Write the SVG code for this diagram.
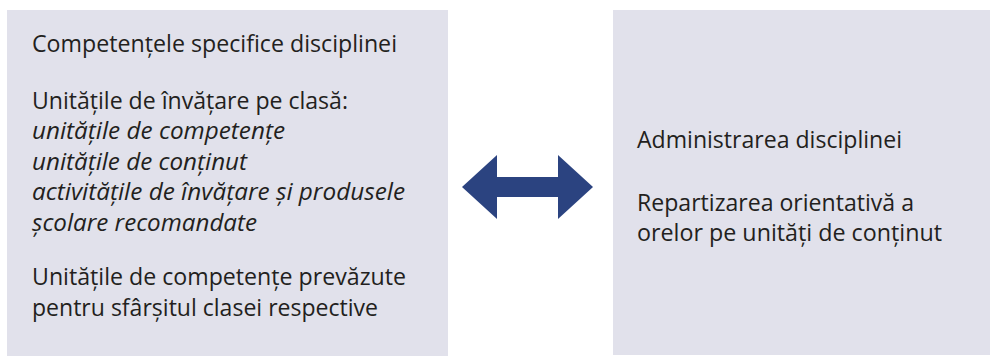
<svg xmlns="http://www.w3.org/2000/svg" width="990" height="356" viewBox="0 0 990 356">
  <style>
    .box { fill: #e1e1eb; }
    .t { font-family: "Open Sans", "Noto Sans", "DejaVu Sans", sans-serif; font-size: 23px; fill: #231f20; }
    .i { font-style: italic; font-size: 24px; }
    .arrow { fill: #2b4380; }
  </style>
  <rect width="990" height="356" fill="#ffffff"/>
  <g id="node-left">
    <rect class="box" x="7" y="10" width="441" height="346"/>
    <text class="t" x="32" y="52" textLength="365" lengthAdjust="spacingAndGlyphs">Competențele specifice disciplinei</text>
    <text class="t" x="32" y="109" textLength="316" lengthAdjust="spacingAndGlyphs">Unitățile de învățare pe clasă:</text>
    <text class="t i" x="32" y="139" textLength="253" lengthAdjust="spacingAndGlyphs">unitățile de competențe</text>
    <text class="t i" x="32" y="170" textLength="215" lengthAdjust="spacingAndGlyphs">unitățile de conținut</text>
    <text class="t i" x="32" y="200" textLength="373" lengthAdjust="spacingAndGlyphs">activitățile de învățare și produsele</text>
    <text class="t i" x="32" y="231" textLength="225" lengthAdjust="spacingAndGlyphs">școlare recomandate</text>
    <text class="t" x="32" y="285" textLength="374" lengthAdjust="spacingAndGlyphs">Unitățile de competențe prevăzute</text>
    <text class="t" x="32" y="316" textLength="346" lengthAdjust="spacingAndGlyphs">pentru sfârșitul clasei respective</text>
  </g>
  <g id="node-right">
    <rect class="box" x="613" y="10" width="377" height="345"/>
    <text class="t" x="637" y="148" textLength="265" lengthAdjust="spacingAndGlyphs">Administrarea disciplinei</text>
    <text class="t" x="637" y="211" textLength="277" lengthAdjust="spacingAndGlyphs">Repartizarea orientativă a</text>
    <text class="t" x="637" y="241" textLength="305" lengthAdjust="spacingAndGlyphs">orelor pe unități de conținut</text>
  </g>
  <g id="connectors">
    <polygon class="arrow" points="462,187 497,155 497,177 558,177 558,155 593,187 558,219 558,197 497,197 497,219"/>
  </g>
</svg>
